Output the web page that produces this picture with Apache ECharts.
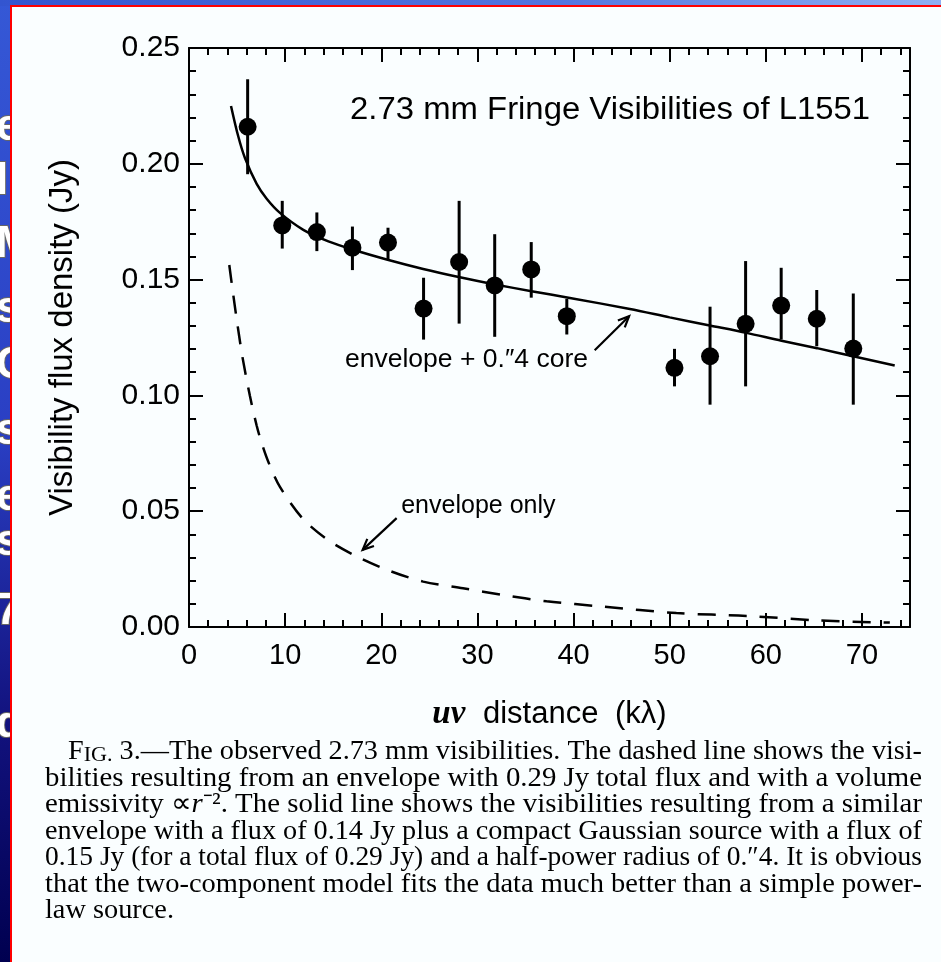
<!DOCTYPE html>
<html>
<head>
<meta charset="utf-8">
<title>2.73 mm Fringe Visibilities of L1551</title>
<script src="https://cdn.jsdelivr.net/npm/echarts/dist/echarts.min.js"></script>
<style>
  html, body { margin: 0; padding: 0; background: #fafeff; }
  #chart { width: 941px; height: 962px; }
</style>
</head>
<body>
<div id="chart"></div>
<script>
// Measured visibilities: uv distance (kλ), flux density (Jy) and 1σ error range
const uvDist  = [6.1, 9.7, 13.3, 17.0, 20.7, 24.4, 28.1, 31.8, 35.6, 39.3, 50.5, 54.2, 57.9, 61.6, 65.3, 69.1];
const fluxJy  = [0.216, 0.1734, 0.1705, 0.1638, 0.166, 0.1375, 0.1576, 0.1475, 0.1544, 0.1342, 0.1119, 0.1169, 0.1309, 0.1388, 0.1331, 0.1202];
const errHigh = [0.2365, 0.184, 0.179, 0.1729, 0.1724, 0.1508, 0.184, 0.1696, 0.1662, 0.1417, 0.1201, 0.1383, 0.158, 0.1551, 0.1455, 0.144];
const errLow  = [0.1955, 0.1634, 0.1623, 0.1541, 0.1587, 0.1241, 0.131, 0.1253, 0.1422, 0.1263, 0.1039, 0.096, 0.1039, 0.1241, 0.1212, 0.096];

// Model: envelope + 0.4" compact core (solid line)
const coreX = [4.37, 5.1, 5.82, 7.04, 8.08, 9.46, 11.89, 14.5, 17.08, 20.56, 24.36, 28.18, 31.82, 35.63, 39.62, 45.86, 50.0, 54.17, 57.99, 61.63, 65.33, 69.08, 73.41];
const coreY = [0.2250, 0.2122, 0.2025, 0.1913, 0.1849, 0.1788, 0.1715, 0.1665, 0.1629, 0.1587, 0.1546, 0.1510, 0.1479, 0.1450, 0.1421, 0.1373, 0.1337, 0.1302, 0.1270, 0.1236, 0.1204, 0.1169, 0.1129];

// Model: power-law envelope only (dashed line)
const envX = [4.19, 4.54, 5.06, 5.58, 6.34, 7.05, 7.6, 8.27, 9.46, 11.9, 14.66, 17.78, 20.9, 24.36, 28.5, 32.7, 37.2, 43.1, 50.7, 58.0, 65.6, 72.9];
const envY = [0.1563, 0.1454, 0.1300, 0.1161, 0.0997, 0.0868, 0.0789, 0.0711, 0.0605, 0.0465, 0.0370, 0.0298, 0.0242, 0.0196, 0.0167, 0.0138, 0.0111, 0.0088, 0.0060, 0.0048, 0.0028, 0.0019];

// Axis ranges and tick steps
const xRange = [0, 75];
const yRange = [0, 0.25];
const xMajor = 10, xMinor = 2;
const yMajor = 0.05, yMinor = 0.01;

// Annotations placed in data coordinates
const noteText = ['2.73 mm Fringe Visibilities of L1551', 'envelope + 0.\u20334 core', 'envelope only'];
const noteAt   = [[43.8, 0.2232], [28.86, 0.1155], [30.1, 0.0523]];
const noteSize = [31, 26, 25];
const noteStretch = [1.06, 1.02, 1.0];
// Arrows from label towards curve: [x0, y0, x1, y1]
const arrows = [[42.2, 0.1195, 45.78, 0.1342], [21.6, 0.047, 18.06, 0.0333]];

// Figure caption (one entry per printed line)
const captionLines = [
  [['F', 'n'], ['IG.', 'sc'], [' 3.\u2014The observed 2.73 mm visibilities. The dashed line shows the visi-', 'n']],
  [['bilities resulting from an envelope with 0.29 Jy total flux and with a volume', 'n']],
  [['emissivity \u221D', 'n'], ['r', 'it'], ['\u207B\u00B2', 'n'], ['. The solid line shows the visibilities resulting from a similar', 'n']],
  [['envelope with a flux of 0.14 Jy plus a compact Gaussian source with a flux of', 'n']],
  [['0.15 Jy (for a total flux of 0.29 Jy) and a half-power radius of 0.\u20334. It is obvious', 'n']],
  [['that the two-component model fits the data much better than a simple power-', 'n']],
  [['law source.', 'n']]
];

// Letter fragments of the slide behind the figure (left strip)
const stripLetters = [['e', 128], ['l', 182], ['M', 245], ['s', 310], ['C', 366], ['s', 432], ['e', 498], ['s', 543], ['7', 612], ['d', 725]];

const SANS = 'Liberation Sans';
const SERIF = 'Liberation Serif';

function pairs(xs, ys) { return xs.map((x, i) => [x, ys[i]]); }

function valueAxis(pos, range, step, tickLen, withLine, withLabels, isX) {
  const ax = {
    type: 'value', position: pos, min: range[0], max: range[1], interval: step,
    axisLine: { show: withLine, onZero: false, lineStyle: { color: '#000', width: 2 } },
    axisTick: { show: true, inside: true, length: tickLen, lineStyle: { color: '#000', width: 2 } },
    splitLine: { show: false },
    axisLabel: { show: false },
    axisPointer: { show: false }
  };
  if (withLabels) {
    ax.axisLabel = {
      show: true, color: '#000', fontFamily: SANS, fontSize: isX ? 29 : 30,
      margin: isX ? 14 : 9, showMaxLabel: !isX,
      formatter: isX ? (v => String(Math.round(v))) : (v => v.toFixed(2))
    };
  }
  return ax;
}

const xAxes = [
  valueAxis('bottom', xRange, xMajor, 14, true, true, true),
  valueAxis('top', xRange, xMajor, 14, true, false, true),
  valueAxis('bottom', xRange, xMinor, 7, false, false, true),
  valueAxis('top', xRange, xMinor, 7, false, false, true)
];
Object.assign(xAxes[0], {
  name: '{it|uv} distance {u|(k\u03BB)}', nameLocation: 'middle', nameGap: 71, nameMoveOverlap: false,
  nameTextStyle: {
    color: '#000', fontFamily: SANS, fontSize: 31,
    rich: {
      it: { fontFamily: SERIF, fontStyle: 'italic', fontWeight: 'bold', fontSize: 33, color: '#000', padding: [0, 9, 0, 0] },
      u: { fontFamily: SANS, fontSize: 31, color: '#000', padding: [0, 0, 0, 8] }
    }
  }
});

const yAxes = [
  valueAxis('left', yRange, yMajor, 14, true, true, false),
  valueAxis('right', yRange, yMajor, 14, true, false, false),
  valueAxis('left', yRange, yMinor, 7, false, false, false),
  valueAxis('right', yRange, yMinor, 7, false, false, false)
];
Object.assign(yAxes[0], {
  name: 'Visibility flux density (Jy)', nameLocation: 'middle', nameGap: 110, nameMoveOverlap: false,
  nameTextStyle: { color: '#000', fontFamily: SANS, fontSize: 33 }
});

// Caption: measure every line and stretch it to the justified column width
const measureCtx = document.createElement('canvas').getContext('2d');
const capStyles = {
  n:  { fontSize: 28, fontFamily: SERIF, fill: '#000', color: '#000' },
  sc: { fontSize: 22, fontFamily: SERIF, fill: '#000', color: '#000', verticalAlign: 'bottom' },
  it: { fontSize: 28, fontFamily: SERIF, fontStyle: 'italic', fill: '#000', color: '#000' }
};
function segWidth(text, st) {
  measureCtx.font = (st.fontStyle || 'normal') + ' normal ' + st.fontSize + 'px "' + st.fontFamily + '"';
  return measureCtx.measureText(text).width;
}
const capLeft = 45, capIndent = 68, capRight = 922, capTop = 752, capStep = 26.5;
const capWidths = captionLines.map(line => line.reduce((s, seg) => s + segWidth(seg[0], capStyles[seg[1]]), 0));
const capScales = capWidths.map((w, i) => (capRight - (i === 0 ? capIndent : capLeft)) / w);
capScales[capScales.length - 1] = capScales.slice(0, -1).reduce((a, b) => a + b, 0) / (capScales.length - 1);

const graphics = [];
// Slide backdrop: blue strips, letter fragments, white sheet and red frame
graphics.push({
  type: 'rect', z: -20, shape: { x: 0, y: 0, width: 941, height: 962 },
  style: { fill: { type: 'linear', x: 0, y: 0, x2: 0, y2: 1, colorStops: [
    { offset: 0, color: '#3558d6' }, { offset: 0.45, color: '#2a3fc4' },
    { offset: 0.75, color: '#12127e' }, { offset: 1, color: '#000050' }] } }
});
graphics.push({
  type: 'rect', z: -19, shape: { x: 0, y: 0, width: 941, height: 6 },
  style: { fill: { type: 'linear', x: 0, y: 0, x2: 1, y2: 0, colorStops: [
    { offset: 0, color: '#3355d0' }, { offset: 0.6, color: '#5577e0' }, { offset: 1, color: '#8fb0f2' }] } }
});
stripLetters.forEach(([ch, yc]) => {
  graphics.push({
    type: 'text', z: -18, x: -4, y: yc,
    style: { text: ch, fontFamily: SANS, fontWeight: 'bold', fontSize: 44, fill: '#ffffff',
      stroke: '#666666', lineWidth: 2, align: 'left', verticalAlign: 'middle',
      textAlign: 'left', textVerticalAlign: 'middle' }
  });
});
graphics.push({ type: 'rect', z: -17, shape: { x: 11, y: 6, width: 930, height: 956 }, style: { fill: '#fafeff' } });
graphics.push({ type: 'rect', z: -16, shape: { x: 10, y: 5, width: 2, height: 957 }, style: { fill: '#ff0000' } });
graphics.push({ type: 'rect', z: -16, shape: { x: 10, y: 5, width: 931, height: 2 }, style: { fill: '#ff0000' } });

captionLines.forEach((line, i) => {
  graphics.push({
    type: 'text', z: 5,
    x: i === 0 ? capIndent : capLeft, y: capTop + i * capStep,
    scaleX: capScales[i], scaleY: 1,
    style: {
      text: line.map(seg => '{' + seg[1] + '|' + seg[0] + '}').join(''),
      rich: capStyles, fontSize: 28, fontFamily: SERIF, fill: '#000',
      align: 'left', verticalAlign: 'middle', textAlign: 'left', textVerticalAlign: 'middle'
    }
  });
});

const chart = echarts.init(document.getElementById('chart'), null, { renderer: 'canvas' });
chart.setOption({
  backgroundColor: 'transparent',
  animation: false,
  grid: { left: 189, right: 31, top: 48, bottom: 335, containLabel: false, outerBoundsMode: 'none' },
  xAxis: xAxes,
  yAxis: yAxes,
  graphic: graphics,
  series: [
    {
      name: 'envelope + 0.\u20334 core', type: 'line', data: pairs(coreX, coreY),
      smooth: 0.3, showSymbol: false, symbol: 'none', z: 3,
      lineStyle: { color: '#000', width: 2.5 }
    },
    {
      name: 'envelope only', type: 'line', data: pairs(envX, envY),
      smooth: 0.3, showSymbol: false, symbol: 'none', z: 3,
      lineStyle: { color: '#000', width: 2.5, type: [18, 13] }
    },
    {
      name: 'error bars', type: 'custom', z: 4,
      data: uvDist.map((x, i) => [x, errLow[i], errHigh[i]]),
      encode: { x: 0, y: [1, 2] },
      renderItem: (params, api) => {
        const lo = api.coord([api.value(0), api.value(1)]);
        const hi = api.coord([api.value(0), api.value(2)]);
        return { type: 'line', shape: { x1: lo[0], y1: lo[1], x2: hi[0], y2: hi[1] },
          style: { stroke: '#000', lineWidth: 3 } };
      }
    },
    {
      name: 'visibilities', type: 'scatter', z: 5, data: pairs(uvDist, fluxJy),
      symbol: 'circle', symbolSize: 18, itemStyle: { color: '#000', opacity: 1 }
    },
    {
      name: 'arrows', type: 'custom', z: 5, clip: false,
      data: arrows,
      renderItem: (params, api) => {
        const a = api.coord([api.value(0), api.value(1)]);
        const b = api.coord([api.value(2), api.value(3)]);
        const ang = Math.atan2(b[1] - a[1], b[0] - a[0]);
        const L = 12, w = 0.42;
        const h1 = [b[0] - L * Math.cos(ang - w), b[1] - L * Math.sin(ang - w)];
        const h2 = [b[0] - L * Math.cos(ang + w), b[1] - L * Math.sin(ang + w)];
        return { type: 'group', children: [
          { type: 'line', shape: { x1: a[0], y1: a[1], x2: b[0], y2: b[1] }, style: { stroke: '#000', lineWidth: 2.2 } },
          { type: 'polyline', shape: { points: [h1, b, h2] }, style: { stroke: '#000', fill: null, lineWidth: 2.2 } }
        ] };
      }
    },
    {
      name: 'notes', type: 'custom', z: 6, clip: false,
      data: noteAt,
      renderItem: (params, api) => {
        const p = api.coord([api.value(0), api.value(1)]);
        const i = params.dataIndex;
        return { type: 'text', x: p[0], y: p[1], scaleX: noteStretch[i], scaleY: 1,
          style: { text: noteText[i], fontFamily: SANS, fontSize: noteSize[i], fill: '#000',
            align: 'center', verticalAlign: 'middle', textAlign: 'center', textVerticalAlign: 'middle' } };
      }
    }
  ]
});
</script>
</body>
</html>
